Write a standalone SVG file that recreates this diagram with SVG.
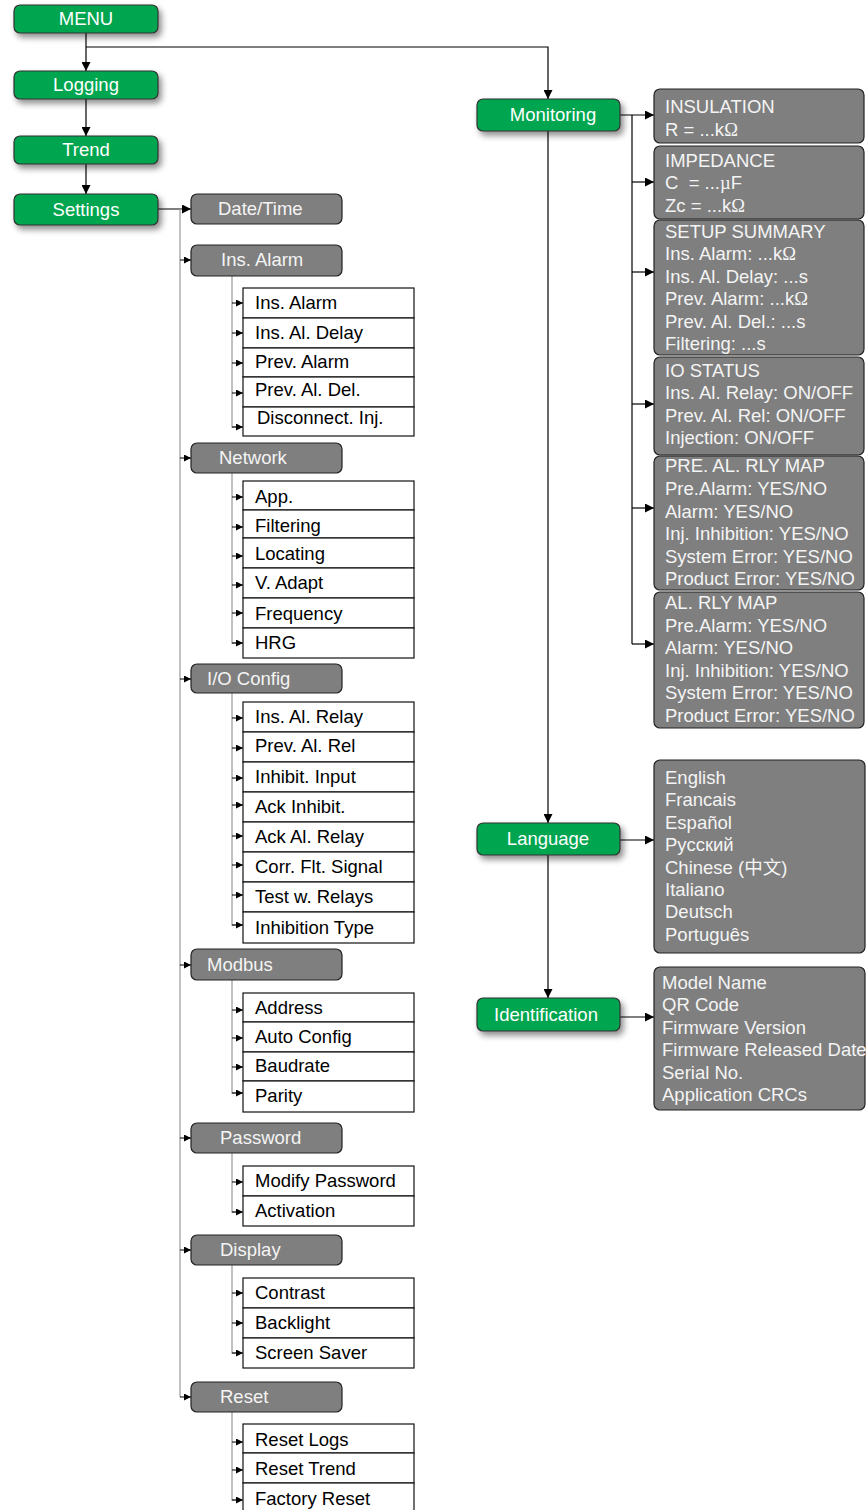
<svg xmlns="http://www.w3.org/2000/svg" width="866" height="1510" viewBox="0 0 866 1510">
  <defs>
    <filter id="shadow" x="-10%" y="-20%" width="130%" height="170%">
      <feDropShadow dx="3" dy="4" stdDeviation="3" flood-color="#000" flood-opacity="0.45"/>
    </filter>
    <marker id="arr" markerUnits="userSpaceOnUse" markerWidth="9" markerHeight="9" refX="9" refY="4.5" orient="auto">
      <path d="M0,0 L9,4.5 L0,9 z" fill="#000"/>
    </marker>
    <marker id="arrs" markerUnits="userSpaceOnUse" markerWidth="7" markerHeight="7" refX="7" refY="3.5" orient="auto">
      <path d="M0,0 L7,3.5 L0,7 z" fill="#000"/>
    </marker>
  </defs>
  <style>
    text { font-family: "Liberation Sans", Arial, "Noto Sans CJK SC", sans-serif; font-size: 18.5px; }
    .sym { font-family: "Liberation Serif", "Times New Roman", serif; }
    .green { fill: #00a650; stroke: #333; stroke-width: 1.2; filter: url(#shadow); }
    .gtxt { fill: #fff; text-anchor: middle; }
    .sect { fill: #7f7f7f; stroke: #222; stroke-width: 1.2; }
    .panel { fill: #7f7f7f; stroke: #222; stroke-width: 1.2; }
    .wtxt { fill: #f4f4f4; }
    .item { fill: #fff; stroke: #111; stroke-width: 1.2; }
    .itxt { fill: #000; }
    .main { fill: none; stroke: #000; stroke-width: 1.2; }
    .tree { fill: none; stroke: #a0a0a0; stroke-width: 1.3; }
    .tip { fill: none; stroke: #000; stroke-width: 1; }
  </style>

  <!-- connectors -->
  <g id="connectors">
    <path class="main" d="M86,33 V71" marker-end="url(#arr)"/>
    <path class="main" d="M86,99 V136" marker-end="url(#arr)"/>
    <path class="main" d="M86,164 V194" marker-end="url(#arr)"/>
    <path class="main" d="M86,47 H548 V99" marker-end="url(#arr)"/>
    <path class="main" d="M158,209 H191" marker-end="url(#arr)"/>
    <path class="main" d="M548,131 V823" marker-end="url(#arr)"/>
    <path class="main" d="M548,855 V998" marker-end="url(#arr)"/>
    <path class="main" d="M620,115 H654" marker-end="url(#arr)"/>
    <path class="main" d="M620,840 H654" marker-end="url(#arr)"/>
    <path class="main" d="M620,1017 H654" marker-end="url(#arr)"/>
    <!-- monitoring fan-out -->
    <path class="main" d="M632,115 V644" stroke-width="1"/>
    <path class="main" d="M632,182 H654" marker-end="url(#arr)"/>
    <path class="main" d="M632,272 H654" marker-end="url(#arr)"/>
    <path class="main" d="M632,404 H654" marker-end="url(#arr)"/>
    <path class="main" d="M632,508 H654" marker-end="url(#arr)"/>
    <path class="main" d="M632,644 H654" marker-end="url(#arr)"/>

    <!-- settings tree spine -->
    <path class="tree" d="M180,209 V1397"/>
    <path class="tip" d="M180,260 H191" marker-end="url(#arrs)"/>
    <path class="tip" d="M180,458 H191" marker-end="url(#arrs)"/>
    <path class="tip" d="M180,679 H191" marker-end="url(#arrs)"/>
    <path class="tip" d="M180,965 H191" marker-end="url(#arrs)"/>
    <path class="tip" d="M180,1138 H191" marker-end="url(#arrs)"/>
    <path class="tip" d="M180,1250 H191" marker-end="url(#arrs)"/>
    <path class="tip" d="M180,1397 H191" marker-end="url(#arrs)"/>

    <!-- Ins. Alarm sub-tree -->
    <path class="tree" d="M232,276 V427 H236"/>
    <path class="tip" d="M232,303 H243" marker-end="url(#arrs)"/>
    <path class="tip" d="M232,333 H243" marker-end="url(#arrs)"/>
    <path class="tip" d="M232,363 H243" marker-end="url(#arrs)"/>
    <path class="tip" d="M232,393 H243" marker-end="url(#arrs)"/>
    <path class="tip" d="M232,427 H243" marker-end="url(#arrs)"/>

    <!-- Network sub-tree -->
    <path class="tree" d="M232,473 V643 H236"/>
    <path class="tip" d="M232,497 H243" marker-end="url(#arrs)"/>
    <path class="tip" d="M232,527 H243" marker-end="url(#arrs)"/>
    <path class="tip" d="M232,556 H243" marker-end="url(#arrs)"/>
    <path class="tip" d="M232,585 H243" marker-end="url(#arrs)"/>
    <path class="tip" d="M232,613 H243" marker-end="url(#arrs)"/>
    <path class="tip" d="M232,643 H243" marker-end="url(#arrs)"/>

    <!-- I/O Config sub-tree -->
    <path class="tree" d="M232,693 V925 H236"/>
    <path class="tip" d="M232,718 H243" marker-end="url(#arrs)"/>
    <path class="tip" d="M232,748 H243" marker-end="url(#arrs)"/>
    <path class="tip" d="M232,778 H243" marker-end="url(#arrs)"/>
    <path class="tip" d="M232,805 H243" marker-end="url(#arrs)"/>
    <path class="tip" d="M232,836 H243" marker-end="url(#arrs)"/>
    <path class="tip" d="M232,865 H243" marker-end="url(#arrs)"/>
    <path class="tip" d="M232,895 H243" marker-end="url(#arrs)"/>
    <path class="tip" d="M232,925 H243" marker-end="url(#arrs)"/>

    <!-- Modbus sub-tree -->
    <path class="tree" d="M232,980 V1093 H236"/>
    <path class="tip" d="M232,1010 H243" marker-end="url(#arrs)"/>
    <path class="tip" d="M232,1038 H243" marker-end="url(#arrs)"/>
    <path class="tip" d="M232,1067 H243" marker-end="url(#arrs)"/>
    <path class="tip" d="M232,1093 H243" marker-end="url(#arrs)"/>

    <!-- Password sub-tree -->
    <path class="tree" d="M232,1153 V1212 H236"/>
    <path class="tip" d="M232,1182 H243" marker-end="url(#arrs)"/>
    <path class="tip" d="M232,1212 H243" marker-end="url(#arrs)"/>

    <!-- Display sub-tree -->
    <path class="tree" d="M232,1265 V1353 H236"/>
    <path class="tip" d="M232,1293 H243" marker-end="url(#arrs)"/>
    <path class="tip" d="M232,1323 H243" marker-end="url(#arrs)"/>
    <path class="tip" d="M232,1353 H243" marker-end="url(#arrs)"/>

    <!-- Reset sub-tree -->
    <path class="tree" d="M232,1412 V1500 H236"/>
    <path class="tip" d="M232,1442 H243" marker-end="url(#arrs)"/>
    <path class="tip" d="M232,1470 H243" marker-end="url(#arrs)"/>
    <path class="tip" d="M232,1500 H243" marker-end="url(#arrs)"/>
  </g>

  <!-- main menu column -->
  <g id="menu"><rect class="green" x="14" y="5" width="144" height="28" rx="6"/><text class="gtxt" x="86" y="25">MENU</text></g>
  <g id="logging"><rect class="green" x="14" y="71" width="144" height="28" rx="6"/><text class="gtxt" x="86" y="91">Logging</text></g>
  <g id="trend"><rect class="green" x="14" y="136" width="144" height="28" rx="6"/><text class="gtxt" x="86" y="156">Trend</text></g>
  <g id="settings"><rect class="green" x="14" y="194" width="144" height="31" rx="6"/><text class="gtxt" x="86" y="216">Settings</text></g>

  <!-- right column -->
  <g id="monitoring"><rect class="green" x="477" y="99" width="143" height="32" rx="6"/><text class="gtxt" x="553" y="121">Monitoring</text></g>
  <g id="language"><rect class="green" x="477" y="823" width="143" height="32" rx="6"/><text class="gtxt" x="548" y="845">Language</text></g>
  <g id="identification"><rect class="green" x="477" y="998" width="143" height="33" rx="6"/><text class="gtxt" x="546" y="1021">Identification</text></g>

  <!-- monitoring panels -->
  <g id="insulation">
    <rect class="panel" x="654" y="89" width="210" height="54" rx="6"/>
    <text class="wtxt" x="665" y="113">INSULATION</text>
    <text class="wtxt" x="665" y="136">R = ...k<tspan class="sym">Ω</tspan></text>
  </g>
  <g id="impedance">
    <rect class="panel" x="654" y="146" width="210" height="73" rx="6"/>
    <text class="wtxt" x="665" y="167">IMPEDANCE</text>
    <text class="wtxt" x="665" y="189" xml:space="preserve">C  = ...<tspan class="sym">µ</tspan>F</text>
    <text class="wtxt" x="665" y="212">Zc = ...k<tspan class="sym">Ω</tspan></text>
  </g>
  <g id="setup-summary">
    <rect class="panel" x="654" y="220" width="210" height="135" rx="6"/>
    <text class="wtxt" x="665" y="238">SETUP SUMMARY</text>
    <text class="wtxt" x="665" y="260">Ins. Alarm: ...k<tspan class="sym">Ω</tspan></text>
    <text class="wtxt" x="665" y="283">Ins. Al. Delay: ...s</text>
    <text class="wtxt" x="665" y="305">Prev. Alarm: ...k<tspan class="sym">Ω</tspan></text>
    <text class="wtxt" x="665" y="328">Prev. Al. Del.: ...s</text>
    <text class="wtxt" x="665" y="350">Filtering: ...s</text>
  </g>
  <g id="io-status">
    <rect class="panel" x="654" y="357" width="210" height="98" rx="6"/>
    <text class="wtxt" x="665" y="377">IO STATUS</text>
    <text class="wtxt" x="665" y="399">Ins. Al. Relay: ON/OFF</text>
    <text class="wtxt" x="665" y="422">Prev. Al. Rel: ON/OFF</text>
    <text class="wtxt" x="665" y="444">Injection: ON/OFF</text>
  </g>
  <g id="pre-al-rly-map">
    <rect class="panel" x="654" y="456" width="210" height="134" rx="6"/>
    <text class="wtxt" x="665" y="472">PRE. AL. RLY MAP</text>
    <text class="wtxt" x="665" y="495">Pre.Alarm: YES/NO</text>
    <text class="wtxt" x="665" y="518">Alarm: YES/NO</text>
    <text class="wtxt" x="665" y="540">Inj. Inhibition: YES/NO</text>
    <text class="wtxt" x="665" y="563">System Error: YES/NO</text>
    <text class="wtxt" x="665" y="585">Product Error: YES/NO</text>
  </g>
  <g id="al-rly-map">
    <rect class="panel" x="654" y="592" width="210" height="136" rx="6"/>
    <text class="wtxt" x="665" y="609">AL. RLY MAP</text>
    <text class="wtxt" x="665" y="632">Pre.Alarm: YES/NO</text>
    <text class="wtxt" x="665" y="654">Alarm: YES/NO</text>
    <text class="wtxt" x="665" y="677">Inj. Inhibition: YES/NO</text>
    <text class="wtxt" x="665" y="699">System Error: YES/NO</text>
    <text class="wtxt" x="665" y="722">Product Error: YES/NO</text>
  </g>
  <g id="language-list">
    <rect class="panel" x="654" y="760" width="211" height="193" rx="6"/>
    <text class="wtxt" x="665" y="784">English</text>
    <text class="wtxt" x="665" y="806">Francais</text>
    <text class="wtxt" x="665" y="829">Español</text>
    <text class="wtxt" x="665" y="851">Русский</text>
    <text class="wtxt" x="665" y="874">Chinese (中文)</text>
    <text class="wtxt" x="665" y="896">Italiano</text>
    <text class="wtxt" x="665" y="918">Deutsch</text>
    <text class="wtxt" x="665" y="941">Português</text>
  </g>
  <g id="identification-list">
    <rect class="panel" x="654" y="967" width="211" height="143" rx="6"/>
    <text class="wtxt" x="662" y="989">Model Name</text>
    <text class="wtxt" x="662" y="1011">QR Code</text>
    <text class="wtxt" x="662" y="1034">Firmware Version</text>
    <text class="wtxt" x="662" y="1056">Firmware Released Date</text>
    <text class="wtxt" x="662" y="1079">Serial No.</text>
    <text class="wtxt" x="662" y="1101">Application CRCs</text>
  </g>

  <!-- settings sections -->
  <g id="date-time"><rect class="sect" x="191" y="194" width="151" height="30" rx="6"/><text class="wtxt" x="218" y="215">Date/Time</text></g>

  <g id="ins-alarm"><rect class="sect" x="191" y="245" width="151" height="31" rx="6"/><text class="wtxt" x="221" y="266">Ins. Alarm</text></g>
  <g id="ins-alarm-items">
    <rect class="item" x="243" y="288" width="171" height="30"/><text class="itxt" x="255" y="309">Ins. Alarm</text>
    <rect class="item" x="243" y="318" width="171" height="30"/><text class="itxt" x="255" y="339">Ins. Al. Delay</text>
    <rect class="item" x="243" y="348" width="171" height="29"/><text class="itxt" x="255" y="368">Prev. Alarm</text>
    <rect class="item" x="243" y="377" width="171" height="30"/><text class="itxt" x="255" y="396">Prev. Al. Del.</text>
    <rect class="item" x="243" y="407" width="171" height="29"/><text class="itxt" x="257" y="424">Disconnect. Inj.</text>
  </g>

  <g id="network"><rect class="sect" x="191" y="443" width="151" height="30" rx="6"/><text class="wtxt" x="219" y="464">Network</text></g>
  <g id="network-items">
    <rect class="item" x="243" y="481" width="171" height="29"/><text class="itxt" x="255" y="503">App.</text>
    <rect class="item" x="243" y="510" width="171" height="28"/><text class="itxt" x="255" y="532">Filtering</text>
    <rect class="item" x="243" y="538" width="171" height="30"/><text class="itxt" x="255" y="560">Locating</text>
    <rect class="item" x="243" y="568" width="171" height="30"/><text class="itxt" x="255" y="589">V. Adapt</text>
    <rect class="item" x="243" y="598" width="171" height="30"/><text class="itxt" x="255" y="620">Frequency</text>
    <rect class="item" x="243" y="628" width="171" height="30"/><text class="itxt" x="255" y="649">HRG</text>
  </g>

  <g id="io-config"><rect class="sect" x="191" y="664" width="151" height="29" rx="6"/><text class="wtxt" x="207" y="685">I/O Config</text></g>
  <g id="io-config-items">
    <rect class="item" x="243" y="702" width="171" height="30"/><text class="itxt" x="255" y="723">Ins. Al. Relay</text>
    <rect class="item" x="243" y="732" width="171" height="30"/><text class="itxt" x="255" y="752">Prev. Al. Rel</text>
    <rect class="item" x="243" y="762" width="171" height="30"/><text class="itxt" x="255" y="783">Inhibit. Input</text>
    <rect class="item" x="243" y="792" width="171" height="30"/><text class="itxt" x="255" y="813">Ack Inhibit.</text>
    <rect class="item" x="243" y="822" width="171" height="30"/><text class="itxt" x="255" y="843">Ack Al. Relay</text>
    <rect class="item" x="243" y="852" width="171" height="30"/><text class="itxt" x="255" y="873">Corr. Flt. Signal</text>
    <rect class="item" x="243" y="882" width="171" height="30"/><text class="itxt" x="255" y="903">Test w. Relays</text>
    <rect class="item" x="243" y="912" width="171" height="31"/><text class="itxt" x="255" y="934">Inhibition Type</text>
  </g>

  <g id="modbus"><rect class="sect" x="191" y="949" width="151" height="31" rx="6"/><text class="wtxt" x="207" y="971">Modbus</text></g>
  <g id="modbus-items">
    <rect class="item" x="243" y="993" width="171" height="29"/><text class="itxt" x="255" y="1014">Address</text>
    <rect class="item" x="243" y="1022" width="171" height="30"/><text class="itxt" x="255" y="1043">Auto Config</text>
    <rect class="item" x="243" y="1052" width="171" height="29"/><text class="itxt" x="255" y="1072">Baudrate</text>
    <rect class="item" x="243" y="1081" width="171" height="31"/><text class="itxt" x="255" y="1102">Parity</text>
  </g>

  <g id="password"><rect class="sect" x="191" y="1123" width="151" height="30" rx="6"/><text class="wtxt" x="220" y="1144">Password</text></g>
  <g id="password-items">
    <rect class="item" x="243" y="1166" width="171" height="30"/><text class="itxt" x="255" y="1187">Modify Password</text>
    <rect class="item" x="243" y="1196" width="171" height="30"/><text class="itxt" x="255" y="1217">Activation</text>
  </g>

  <g id="display"><rect class="sect" x="191" y="1235" width="151" height="30" rx="6"/><text class="wtxt" x="220" y="1256">Display</text></g>
  <g id="display-items">
    <rect class="item" x="243" y="1278" width="171" height="30"/><text class="itxt" x="255" y="1299">Contrast</text>
    <rect class="item" x="243" y="1308" width="171" height="30"/><text class="itxt" x="255" y="1329">Backlight</text>
    <rect class="item" x="243" y="1338" width="171" height="30"/><text class="itxt" x="255" y="1359">Screen Saver</text>
  </g>

  <g id="reset"><rect class="sect" x="191" y="1382" width="151" height="30" rx="6"/><text class="wtxt" x="220" y="1403">Reset</text></g>
  <g id="reset-items">
    <rect class="item" x="243" y="1424" width="171" height="29"/><text class="itxt" x="255" y="1446">Reset Logs</text>
    <rect class="item" x="243" y="1453" width="171" height="30"/><text class="itxt" x="255" y="1475">Reset Trend</text>
    <rect class="item" x="243" y="1483" width="171" height="30"/><text class="itxt" x="255" y="1505">Factory Reset</text>
  </g>
</svg>
